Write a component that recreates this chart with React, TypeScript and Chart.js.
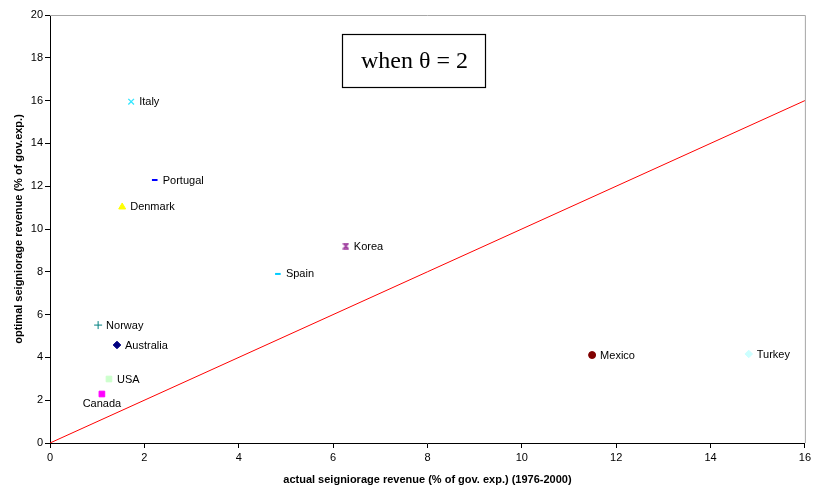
import React, { useEffect, useRef } from "react";
import { Chart, registerables } from "chart.js";

Chart.register(...registerables);

// Seigniorage revenue by country, % of government expenditure
const countries = ["Italy", "Portugal", "Denmark", "Korea", "Spain", "Norway", "Australia", "USA", "Canada", "Mexico", "Turkey"];
const actualRevenue = [1.72, 2.22, 1.53, 6.27, 4.83, 1.02, 1.42, 1.25, 1.10, 11.49, 14.81];
const optimalRevenue = [15.95, 12.29, 11.03, 9.2, 7.9, 5.51, 4.58, 2.99, 2.29, 4.11, 4.16];

const xTicks = [0, 2, 4, 6, 8, 10, 12, 14, 16];
const yTicks = [0, 2, 4, 6, 8, 10, 12, 14, 16, 18, 20];

// 45-degree reference line (optimal = actual)
const diagonal = [0, 16];

const markerColors = ["#33E6FF", "#0000FF", "#FFFF00", "#993399", "#00CCFF", "#008080", "#000080", "#CCFFCC", "#FF00FF", "#800000", "#CCFFFF"];
const markerStyles = ["cross-x", "line", "triangle", "hourglass", "line", "cross", "rectRot", "rect", "rect", "circle", "rectRot"];
const labelBelow = ["Canada"];

function hourglassMarker(color: string): HTMLCanvasElement {
  const c = document.createElement("canvas");
  c.width = 7;
  c.height = 7;
  const g = c.getContext("2d")!;
  g.strokeStyle = color;
  g.lineWidth = 1.4;
  g.beginPath();
  g.moveTo(0.5, 1); g.lineTo(6.5, 1);
  g.moveTo(0.5, 6); g.lineTo(6.5, 6);
  g.moveTo(1, 1); g.lineTo(6, 6);
  g.moveTo(6, 1); g.lineTo(1, 6);
  g.stroke();
  return c;
}

const pointLabels = {
  id: "pointLabels",
  afterDatasetsDraw(chart: any) {
    const ctx = chart.ctx;
    ctx.save();
    ctx.font = "11px 'Liberation Sans', Arial, sans-serif";
    ctx.fillStyle = "#000";
    countries.forEach((name, i) => {
      const el = chart.getDatasetMeta(i + 1).data[0];
      if (!el) return;
      if (labelBelow.includes(name)) {
        ctx.textAlign = "center";
        ctx.textBaseline = "middle";
        ctx.fillText(name, el.x, el.y + 10);
      } else {
        ctx.textAlign = "left";
        ctx.textBaseline = "middle";
        ctx.fillText(name, el.x + 8, el.y + 0.5);
      }
    });
    ctx.restore();
  },
};

const frameAndNote = {
  id: "frameAndNote",
  beforeDatasetsDraw(chart: any) {
    const { ctx, chartArea: a } = chart;
    ctx.save();
    ctx.strokeStyle = "#A6A6A6";
    ctx.lineWidth = 1;
    ctx.beginPath();
    ctx.moveTo(a.left, a.top + 0.5);
    ctx.lineTo(a.right + 0.5, a.top + 0.5);
    ctx.lineTo(a.right + 0.5, a.bottom);
    ctx.stroke();
    ctx.restore();
  },
  afterDraw(chart: any) {
    const { ctx } = chart;
    ctx.save();
    const x = 342, y = 34, w = 143, h = 53;
    ctx.strokeStyle = "#000";
    ctx.lineWidth = 1.2;
    ctx.fillStyle = "#fff";
    ctx.fillRect(x, y, w, h);
    ctx.strokeRect(x + 0.5, y + 0.5, w, h);
    ctx.fillStyle = "#000";
    ctx.font = "24px 'Liberation Serif', 'Times New Roman', serif";
    ctx.textAlign = "center";
    ctx.textBaseline = "middle";
    ctx.fillText("when \u03B8 = 2", x + w / 2 + 1, y + h / 2 + 1);
    ctx.restore();
  },
};

export default function App() {
  const ref = useRef<HTMLCanvasElement>(null);

  useEffect(() => {
    if (!ref.current) return;
    const countrySets = countries.map((name, i) => {
      const style = markerStyles[i];
      let pointStyle: any = style;
      let radius = 3.5;
      let borderWidth = 1;
      if (style === "cross-x") { pointStyle = "crossRot"; radius = 4; borderWidth = 1.3; }
      if (style === "cross") { radius = 4; borderWidth = 1; }
      if (style === "line") { radius = 2.8; borderWidth = 2; }
      if (style === "hourglass") { pointStyle = hourglassMarker(markerColors[i]); }
      if (style === "triangle") { radius = 4; }
      if (style === "rect") { radius = 4; }
      if (style === "rectRot") { radius = 3.8; }
      return {
        type: "scatter" as const,
        label: name,
        data: [{ x: actualRevenue[i], y: optimalRevenue[i] }],
        pointStyle,
        pointRadius: radius,
        pointBackgroundColor: markerColors[i],
        pointBorderColor: markerColors[i],
        pointBorderWidth: borderWidth,
        showLine: false,
      };
    });

    const chart = new Chart(ref.current, {
      type: "scatter",
      data: {
        datasets: [
          {
            type: "line" as const,
            label: "45\u00B0",
            data: diagonal.map((v) => ({ x: v, y: v })),
            borderColor: "#FF0000",
            borderWidth: 1,
            pointRadius: 0,
            showLine: true,
            fill: false,
          } as any,
          ...countrySets,
        ],
      },
      options: {
        responsive: false,
        animation: false,
        events: [],
        layout: { padding: { top: 15, right: 9, left: 0, bottom: 0 } },
        plugins: {
          legend: { display: false },
          tooltip: { enabled: false },
          title: { display: false },
        },
        scales: {
          x: {
            type: "linear",
            min: 0,
            max: 16,
            afterBuildTicks: (s: any) => { s.ticks = xTicks.map((v) => ({ value: v })); },
            afterFit: (s: any) => { s.height = 46; },
            grid: { drawOnChartArea: false, drawTicks: true, tickLength: 5, color: "#000" },
            border: { color: "#000", width: 1 },
            ticks: {
              color: "#000",
              padding: 3,
              maxRotation: 0,
              font: { family: "'Liberation Sans', Arial, sans-serif", size: 11 },
            },
            title: {
              display: true,
              text: "actual seigniorage revenue (% of gov. exp.) (1976-2000)",
              color: "#000",
              padding: { top: 0, bottom: 2 },
              font: { family: "'Liberation Sans', Arial, sans-serif", size: 11, weight: "bold" },
            },
          },
          y: {
            type: "linear",
            min: 0,
            max: 20,
            afterBuildTicks: (s: any) => { s.ticks = yTicks.map((v) => ({ value: v })); },
            afterFit: (s: any) => { s.width = 50; },
            grid: { drawOnChartArea: false, drawTicks: true, tickLength: 5, color: "#000" },
            border: { color: "#000", width: 1 },
            ticks: {
              color: "#000",
              padding: 2,
              font: { family: "'Liberation Sans', Arial, sans-serif", size: 11 },
            },
            title: {
              display: true,
              text: "optimal seigniorage revenue (% of gov.exp.)",
              color: "#000",
              padding: { top: 12.5, bottom: 0 },
              font: { family: "'Liberation Sans', Arial, sans-serif", size: 11, weight: "bold" },
            },
          },
        },
      } as any,
      plugins: [frameAndNote, pointLabels],
    });
    return () => chart.destroy();
  }, []);

  return (
    <div style={{ position: "absolute", left: 0, top: 0, width: 814, height: 489, background: "#fff" }}>
      <canvas ref={ref} width={814} height={489} />
    </div>
  );
}
